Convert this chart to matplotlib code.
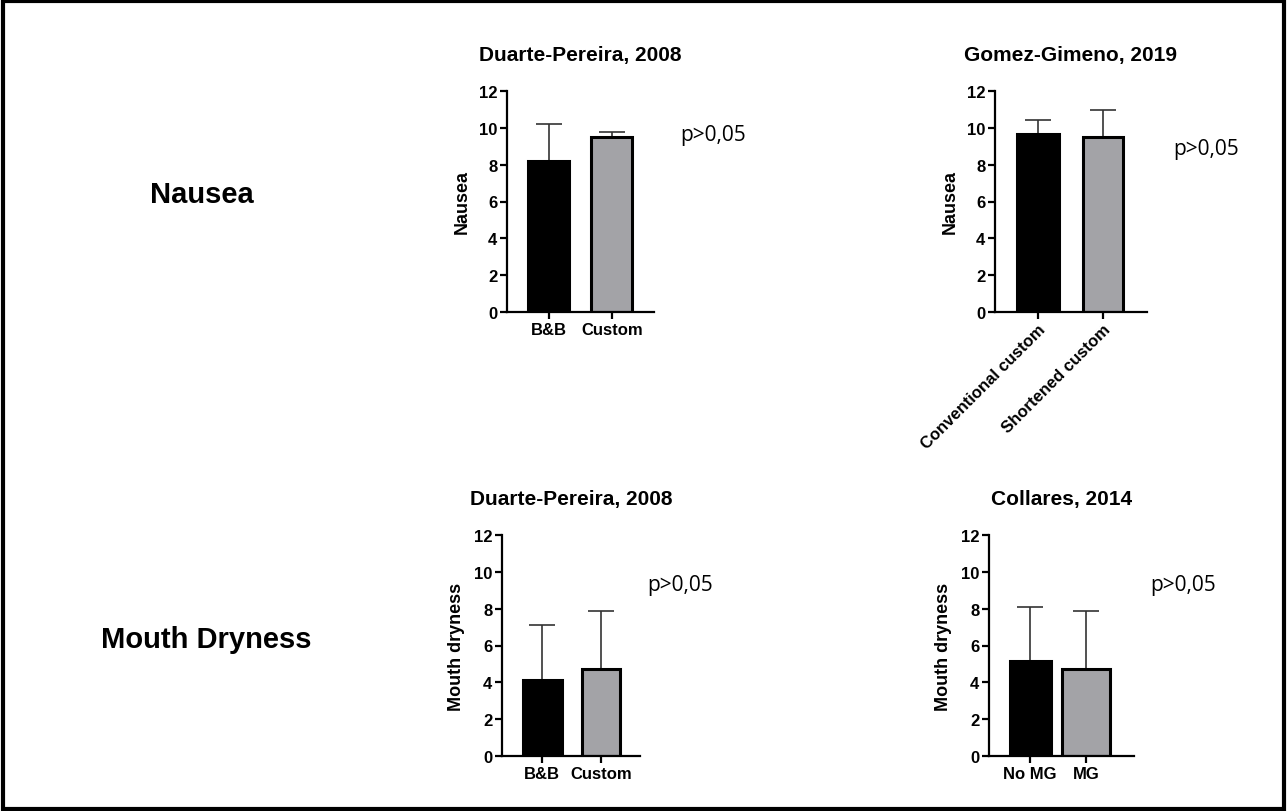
import matplotlib.pyplot as plt
from matplotlib.patches import Rectangle

plt.rcParams['font.family'] = ['Liberation Sans', 'DejaVu Sans']

# panel data: (title, ylabel, categories, means, upper error)
titles = ["Duarte-Pereira, 2008", "Gomez-Gimeno, 2019", "Duarte-Pereira, 2008", "Collares, 2014"]
ylabels = ["Nausea", "Nausea", "Mouth dryness", "Mouth dryness"]
cats = [["B&B", "Custom"],
        ["Conventional custom", "Shortened custom"],
        ["B&B", "Custom"],
        ["No MG", "MG"]]
means = [[8.2, 9.5], [9.65, 9.5], [4.1, 4.7], [5.15, 4.7]]
err_top = [[10.2, 9.75], [10.4, 10.95], [7.1, 7.85], [8.1, 7.85]]
pvals = ["p>0,05", "p>0,05", "p>0,05", "p>0,05"]
row_labels = ["Nausea", "Mouth Dryness"]

W, H = 1287, 812
fig = plt.figure(figsize=(W / 100, H / 100), dpi=100)

# axes boxes in pixels: left, right, top, bottom ; xlim
boxes = [(507, 654, 92, 313, (-0.66, 1.67)),
         (995, 1147, 92, 313, (-0.67, 1.69)),
         (502, 640, 536, 757, (-0.69, 1.67)),
         (989, 1134, 536, 757, (-0.73, 1.85))]
p_pos = [(680, 135), (1173, 149), (647, 585), (1150, 585)]
bar_w = [[0.65, 0.65], [0.65, 0.62], [0.67, 0.66], [0.73, 0.85]]
colors = ["black", "#a3a3a7"]

for i in range(4):
    l, r, t, b, xl = boxes[i]
    ax = fig.add_axes([l / W, 1 - b / H, (r - l) / W, (b - t) / H])
    x = range(len(cats[i]))
    m = means[i]
    errs = [e - v for e, v in zip(err_top[i], m)]
    ax.errorbar(x, m, yerr=[[0, 0], errs], fmt='none', ecolor='#333333',
                elinewidth=1.2, capsize=9.5, capthick=1.2, zorder=1)
    ax.bar(x, m, width=bar_w[i], color=colors, edgecolor='black', linewidth=2.2, zorder=2)
    ax.set_xlim(*xl)
    ax.set_ylim(0, 12)
    ax.set_yticks([0, 2, 4, 6, 8, 10, 12])
    ax.set_xticks(list(x))
    for s in ['top', 'right']:
        ax.spines[s].set_visible(False)
    for s in ['left', 'bottom']:
        ax.spines[s].set_linewidth(1.6)
    ax.spines['left'].set_bounds(0, 12)
    ax.tick_params(direction='out', length=5, width=1.6, labelsize=12, pad=2)
    for lab in ax.get_yticklabels():
        lab.set_fontweight('bold')
    if i == 1:
        ax.set_xticklabels(cats[i], rotation=45, ha='right', rotation_mode='anchor',
                           fontweight='bold', fontsize=12)
    else:
        ax.set_xticklabels(cats[i], fontweight='bold', fontsize=12)
    ax.set_ylabel(ylabels[i], fontweight='bold', fontsize=13, labelpad=6)
    ax.set_title(titles[i], fontweight='bold', fontsize=15, pad=22)
    ax.patch.set_alpha(0)
    px, py = p_pos[i]
    fig.text(px / W, 1 - py / H, pvals[i], fontsize=15, family=['Open Sans', 'DejaVu Sans'],
             va='center', ha='left')

fig.text(202 / W, 1 - 195 / H, row_labels[0], fontsize=21, fontweight='bold', ha='center', va='center')
fig.text(206 / W, 1 - 640 / H, row_labels[1], fontsize=21, fontweight='bold', ha='center', va='center')

fig.patches.append(Rectangle((0.002, 0.003), 0.996, 0.994, transform=fig.transFigure,
                             fill=False, edgecolor='black', linewidth=3))

fig.savefig("out.png", dpi=100)
